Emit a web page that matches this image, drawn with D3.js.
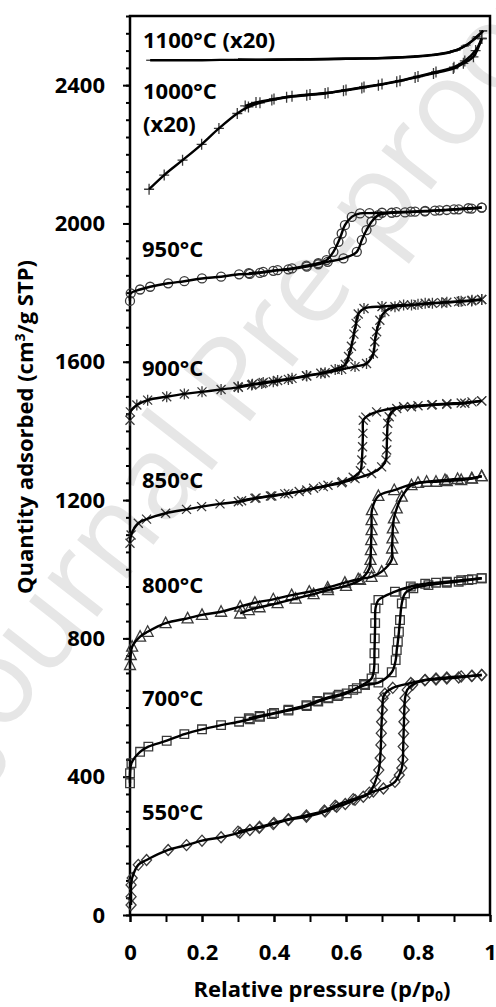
<!DOCTYPE html>
<html>
<head>
<meta charset="utf-8">
<script src="https://cdn.jsdelivr.net/npm/d3@7"></script>
<style>
  body { margin: 0; background: #fff; }
  svg { display: block; }
  text { font-family: "Open Sans", sans-serif; font-weight: bold; fill: #000; }
</style>
</head>
<body>
<script>
// isotherm data: [p/p0, quantity adsorbed]
const ads550 = [[0.003,29],[0.003,53],[0.003,87],[0.006,107],[0.023,145],[0.046,159],[0.106,188],[0.157,202],[0.2,215],[0.253,225],[0.305,238],[0.333,246],[0.359,252],[0.398,263],[0.44,275],[0.49,284],[0.542,299],[0.574,313],[0.598,321],[0.625,333],[0.648,342],[0.676,357],[0.704,366],[0.736,385],[0.748,405],[0.755,425],[0.758,450],[0.759,487],[0.76,525],[0.761,559],[0.762,593],[0.764,627],[0.77,651],[0.785,666],[0.819,679],[0.85,681],[0.88,684],[0.913,687],[0.949,691],[0.977,694]];
const des550 = [[0.977,694],[0.95,692],[0.92,690],[0.88,687],[0.85,684],[0.82,680],[0.78,671],[0.73,657],[0.708,640],[0.703,627],[0.701,593],[0.699,559],[0.698,526],[0.697,492],[0.695,454],[0.691,419],[0.682,388],[0.665,354],[0.62,335],[0.57,316],[0.54,302],[0.49,288],[0.44,277],[0.4,266],[0.36,255],[0.3,241]];

const ads700 = [[0.0,381],[0.0,410],[0.004,439],[0.028,472],[0.051,487],[0.102,504],[0.151,523],[0.2,537],[0.253,549],[0.303,559],[0.333,566],[0.361,573],[0.394,581],[0.44,591],[0.491,604],[0.523,617],[0.551,627],[0.577,633],[0.602,641],[0.63,656],[0.653,665],[0.69,672],[0.727,702],[0.738,737],[0.741,766],[0.744,790],[0.747,819],[0.75,853],[0.755,901],[0.764,930],[0.787,945],[0.829,954],[0.88,961],[0.913,964],[0.94,969],[0.977,974]];
const des700 = [[0.977,974],[0.95,971],[0.92,968],[0.88,964],[0.85,961],[0.82,958],[0.78,950],[0.736,935],[0.69,911],[0.682,887],[0.681,844],[0.68,800],[0.679,757],[0.678,713],[0.671,684],[0.65,668],[0.62,651],[0.58,637],[0.55,629],[0.52,619],[0.49,607],[0.44,594],[0.4,584],[0.36,576],[0.33,569]];

const ads800 = [[0.0,723],[0.002,752],[0.006,776],[0.028,805],[0.049,819],[0.099,844],[0.16,858],[0.2,868],[0.253,877],[0.306,892],[0.347,903],[0.398,913],[0.449,925],[0.498,935],[0.549,947],[0.597,961],[0.634,971],[0.671,978],[0.699,993],[0.727,1027],[0.728,1060],[0.729,1089],[0.73,1118],[0.733,1147],[0.741,1176],[0.755,1210],[0.782,1243],[0.824,1253],[0.875,1258],[0.91,1261],[0.949,1263],[0.977,1269]];
const des800 = [[0.977,1269],[0.95,1262],[0.92,1258],[0.88,1255],[0.85,1253],[0.8,1250],[0.734,1229],[0.69,1212],[0.672,1171],[0.671,1142],[0.671,1113],[0.67,1084],[0.669,1055],[0.668,1027],[0.665,1003],[0.639,969],[0.6,952],[0.55,940],[0.51,928],[0.46,915],[0.41,902],[0.36,890],[0.33,882],[0.306,872]];

const ads850 = [[0.0,1075],[0.003,1099],[0.023,1133],[0.046,1145],[0.099,1162],[0.157,1173],[0.199,1181],[0.25,1189],[0.301,1195],[0.347,1205],[0.394,1212],[0.44,1219],[0.491,1229],[0.537,1239],[0.588,1250],[0.625,1262],[0.671,1277],[0.699,1296],[0.711,1316],[0.713,1345],[0.714,1383],[0.716,1422],[0.72,1441],[0.727,1455],[0.741,1465],[0.782,1470],[0.838,1475],[0.88,1477],[0.93,1480],[0.977,1487]];
const des850 = [[0.977,1487],[0.95,1484],[0.92,1481],[0.88,1479],[0.84,1476],[0.8,1473],[0.76,1470],[0.685,1455],[0.655,1440],[0.648,1431],[0.647,1393],[0.646,1354],[0.644,1316],[0.64,1285],[0.62,1266],[0.59,1253],[0.55,1243],[0.51,1234],[0.47,1225],[0.43,1218],[0.39,1212],[0.35,1206],[0.31,1198]];

const ads900 = [[0.0,1431],[0.001,1455],[0.019,1475],[0.049,1489],[0.102,1499],[0.151,1507],[0.2,1513],[0.253,1520],[0.301,1526],[0.338,1533],[0.366,1537],[0.398,1542],[0.44,1549],[0.491,1559],[0.542,1568],[0.588,1578],[0.625,1586],[0.657,1595],[0.676,1624],[0.68,1658],[0.685,1687],[0.694,1720],[0.708,1745],[0.736,1759],[0.782,1764],[0.82,1769],[0.866,1771],[0.913,1774],[0.949,1776],[0.977,1780]];
const des900 = [[0.977,1780],[0.95,1778],[0.92,1775],[0.88,1772],[0.84,1769],[0.8,1766],[0.76,1764],[0.7,1760],[0.65,1754],[0.634,1738],[0.628,1711],[0.622,1680],[0.615,1645],[0.607,1615],[0.598,1592],[0.57,1578],[0.53,1567],[0.49,1560],[0.45,1552],[0.41,1546],[0.37,1540],[0.34,1535],[0.3,1528]];

const ads950 = [[0.0,1776],[0.002,1798],[0.028,1809],[0.056,1817],[0.106,1827],[0.151,1833],[0.2,1841],[0.253,1846],[0.303,1853],[0.333,1854],[0.361,1857],[0.398,1863],[0.44,1867],[0.491,1875],[0.523,1882],[0.549,1889],[0.593,1899],[0.63,1918],[0.644,1952],[0.657,1981],[0.671,2005],[0.69,2024],[0.727,2031],[0.764,2032],[0.792,2034],[0.819,2035],[0.847,2037],[0.88,2039],[0.913,2041],[0.949,2043],[0.977,2046]];
const des950 = [[0.977,2046],[0.94,2044],[0.9,2041],[0.86,2038],[0.82,2036],[0.78,2034],[0.74,2033],[0.7,2031],[0.665,2030],[0.639,2029],[0.616,2019],[0.597,1995],[0.588,1971],[0.579,1947],[0.565,1918],[0.546,1894],[0.523,1885],[0.49,1878],[0.45,1870],[0.41,1865],[0.37,1860],[0.33,1856]];

const ads1000 = [[0.053,2099],[0.095,2140],[0.146,2183],[0.199,2229],[0.247,2275],[0.298,2318],[0.329,2337],[0.361,2349],[0.394,2357],[0.435,2365],[0.491,2371],[0.542,2376],[0.593,2384],[0.644,2392],[0.69,2400],[0.741,2410],[0.792,2422],[0.843,2434],[0.898,2448],[0.926,2463],[0.954,2482],[0.977,2535]];
const des1000 = [[0.977,2535],[0.96,2500],[0.93,2470],[0.9,2452],[0.85,2438],[0.8,2425],[0.75,2413],[0.7,2403],[0.65,2395],[0.6,2386],[0.55,2378],[0.5,2373],[0.45,2368],[0.4,2360],[0.35,2350],[0.32,2340]];

const ads1100 = [[0.056,2472],[0.1,2472],[0.15,2472],[0.2,2472],[0.25,2473],[0.3,2473],[0.35,2473],[0.4,2473],[0.472,2474],[0.55,2475],[0.6,2476],[0.65,2477],[0.7,2478],[0.75,2480],[0.8,2483],[0.843,2487],[0.88,2493],[0.907,2501],[0.935,2516],[0.963,2540],[0.981,2557]];
const des1100 = [[0.981,2557],[0.96,2536],[0.93,2513],[0.9,2499],[0.85,2489],[0.8,2484],[0.7,2479],[0.6,2477],[0.5,2475],[0.4,2474],[0.3,2474]];

const seriesNames = ['550°C', '700°C', '800°C', '850°C', '900°C', '950°C', '1000°C', '1100°C (x20)'];
const xTicks = [0, 0.2, 0.4, 0.6, 0.8, 1];
const yTicks = [0, 400, 800, 1200, 1600, 2000, 2400];

const W = 496, H = 1007;
const svg = d3.select('body').append('svg').attr('width', W).attr('height', H);

const x = d3.scaleLinear().domain([0, 1]).range([130, 490]);
const y = d3.scaleLinear().domain([0, 2600]).range([915, 16]);

// faint watermark behind the chart
svg.append('text')
  .attr('transform', 'translate(250,370) rotate(-52)')
  .attr('text-anchor', 'middle')
  .attr('dominant-baseline', 'middle')
  .style('font-weight', 'normal')
  .style('font-size', '118px')
  .style('fill', '#e6e6e6')
  .text('Journal Pre-proof');

// axes
const xMinor = svg.append('g')
  .attr('transform', 'translate(0,915)')
  .call(d3.axisBottom(x).ticks(10).tickSize(7).tickFormat(''));
const xMajor = svg.append('g')
  .attr('transform', 'translate(0,915)')
  .call(d3.axisBottom(x).tickValues(xTicks).tickSize(7).tickPadding(22).tickFormat(d3.format('~g')));
const yMinor = svg.append('g')
  .attr('transform', 'translate(130,0)')
  .call(d3.axisLeft(y).tickValues(d3.range(0, 2601, 50)).tickSize(4).tickFormat(''));
const yMajor = svg.append('g')
  .attr('transform', 'translate(130,0)')
  .call(d3.axisLeft(y).tickValues(yTicks).tickSize(7).tickPadding(18).tickFormat(d3.format('d')));

[xMinor, xMajor, yMinor, yMajor].forEach(g => {
  g.select('.domain').remove();
  g.selectAll('line').attr('stroke', '#000').attr('stroke-width', 2);
  g.selectAll('text').style('font-size', '22px').attr('font-family', null);
});

svg.append('rect')
  .attr('x', x(0)).attr('y', y(2600))
  .attr('width', x(1) - x(0)).attr('height', y(0) - y(2600))
  .attr('fill', 'none').attr('stroke', '#000').attr('stroke-width', 2.5);

// marker shapes
function markerPath(type) {
  switch (type) {
    case 'diamond': return 'M0,-5.5L5,0L0,5.5L-5,0Z';
    case 'square': return 'M-4.3,-4.3H4.3V4.3H-4.3Z';
    case 'triangle': return 'M0,-6L5.5,4.5H-5.5Z';
    case 'x': return 'M-4.5,-4.5L4.5,4.5M4.5,-4.5L-4.5,4.5';
    case 'star': return 'M-4.5,-4.5L4.5,4.5M4.5,-4.5L-4.5,4.5M0,-5.5V5.5';
    case 'circle': return 'M4.5,0A4.5,4.5 0 1,1 -4.5,0A4.5,4.5 0 1,1 4.5,0Z';
    case 'plus': return 'M-5,0H5M0,-5.5V5.5';
    case 'dash': return 'M-4,0H4';
  }
}

const series = [
  { ads: ads550, des: des550, marker: 'diamond' },
  { ads: ads700, des: des700, marker: 'square' },
  { ads: ads800, des: des800, marker: 'triangle' },
  { ads: ads850, des: des850, marker: 'x' },
  { ads: ads900, des: des900, marker: 'star' },
  { ads: ads950, des: des950, marker: 'circle' },
  { ads: ads1000, des: des1000, marker: 'plus' },
  { ads: ads1100, des: des1100, marker: 'dash' }
];

const line = d3.line()
  .x(d => x(d[0]))
  .y(d => y(d[1]))
  .curve(d3.curveCatmullRom.alpha(0.5));

const plot = svg.append('g');

series.forEach(s => {
  [s.ads, s.des].forEach(branch => {
    plot.append('g').selectAll('path')
      .data(branch)
      .join('path')
      .attr('transform', d => `translate(${x(d[0])},${y(d[1])})`)
      .attr('d', markerPath(s.marker))
      .attr('fill', 'none')
      .attr('stroke', '#3a3a3a')
      .attr('stroke-width', 1.3);
  });
});

series.forEach(s => {
  [s.ads, s.des].forEach(branch => {
    plot.append('path')
      .datum(branch)
      .attr('d', line)
      .attr('fill', 'none')
      .attr('stroke', '#000')
      .attr('stroke-width', 2.4);
  });
});

// curve labels
const labelPos = [[142, 820], [142, 706], [142, 593], [142, 488], [142, 376], [142, 257], [143, 99], [143, 48]];
seriesNames.forEach((name, i) => {
  svg.append('text')
    .attr('x', labelPos[i][0]).attr('y', labelPos[i][1])
    .style('font-size', '22px')
    .text(name);
});
svg.append('text').attr('x', 143).attr('y', 132).style('font-size', '22px').text('(x20)');

// axis titles
const xTitle = svg.append('text')
  .attr('x', 322).attr('y', 997)
  .attr('text-anchor', 'middle')
  .style('font-size', '22px');
xTitle.append('tspan').text('Relative pressure (p/p');
xTitle.append('tspan').attr('dy', 4).style('font-size', '14px').text('0');
xTitle.append('tspan').attr('dy', -4).text(')');

const yTitle = svg.append('text')
  .attr('transform', 'translate(33,427) rotate(-90)')
  .attr('text-anchor', 'middle')
  .style('font-size', '22px');
yTitle.append('tspan').text('Quantity adsorbed (cm');
yTitle.append('tspan').attr('dy', -8).style('font-size', '14px').text('3');
yTitle.append('tspan').attr('dy', 8).text('/g STP)');
</script>
</body>
</html>
